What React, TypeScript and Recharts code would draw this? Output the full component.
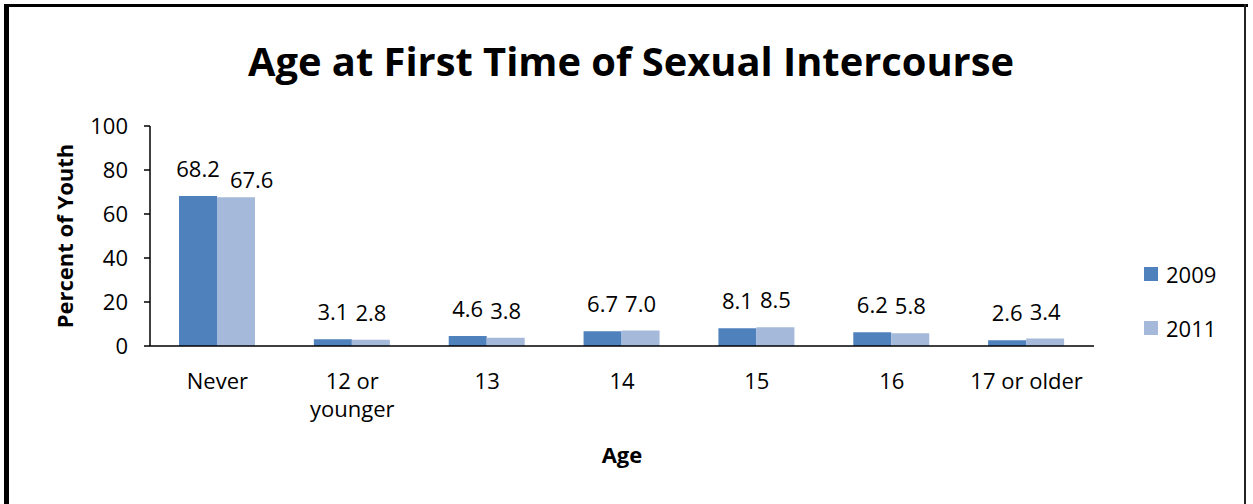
import React from 'react';
import { BarChart, Bar, XAxis, YAxis, LabelList, Legend, Label } from 'recharts';

const categories = ['Never', '12 or\nyounger', '13', '14', '15', '16', '17 or older'];
const values2009 = [68.2, 3.1, 4.6, 6.7, 8.1, 6.2, 2.6];
const values2011 = [67.6, 2.8, 3.8, 7.0, 8.5, 5.8, 3.4];
const yTicks = [0, 20, 40, 60, 80, 100];
const seriesNames = ['2009', '2011'];
const seriesColors = ['#4F81BD', '#A5B9DA'];

const data = categories.map((age, i) => ({
  age,
  y2009: values2009[i],
  y2011: values2011[i],
}));

const FONT = '"Open Sans", "Noto Sans", sans-serif';
const LABEL_SIZE = 22;

// rough width of a numeric label in Open Sans
const textWidth = (s: string) =>
  s.split('').reduce((w, c) => w + (c === '.' ? 0.27 : 0.572), 0) * LABEL_SIZE;

const fmt = (v: number) => Number(v).toFixed(1);

// value label; the second series nudges itself right/down when it would collide with its neighbour
function valueLabel(neighbour: number[] | null) {
  return (props: any) => {
    const { x, y, width, value, index } = props;
    const label = fmt(value);
    let dx = 0;
    let dy = 0;
    if (neighbour) {
      const overlap = (textWidth(label) + textWidth(fmt(neighbour[index]))) / 2 + 2 - width;
      if (overlap > 0) {
        dx = overlap + 8;
        dy = 10;
      }
    }
    return (
      <text
        x={x + width / 2 + dx}
        y={y - 19 + dy}
        textAnchor="middle"
        fontSize={LABEL_SIZE}
        fontFamily={FONT}
        fill="#000"
      >
        {label}
      </text>
    );
  };
}

function AgeTick(props: any) {
  const { x, y, payload } = props;
  const lines = String(payload.value).split('\n');
  return (
    <g transform={`translate(${x},${y})`}>
      {lines.map((line, i) => (
        <text key={i} x={0} y={43 + i * 28} textAnchor="middle" fontSize={22} fontFamily={FONT} fill="#000">
          {line}
        </text>
      ))}
    </g>
  );
}

function LegendBox(props: any) {
  const items = props.payload || [];
  return (
    <div style={{ fontFamily: FONT }}>
      {items.map((e: any, i: number) => (
        <div
          key={e.value}
          style={{ display: 'flex', alignItems: 'center', height: 32, marginBottom: i === 0 ? 22 : 0 }}
        >
          <span style={{ width: 14, height: 14, background: e.color, marginRight: 8, display: 'inline-block' }} />
          <span style={{ fontSize: 22, lineHeight: '32px', color: '#000' }}>{e.value}</span>
        </div>
      ))}
    </div>
  );
}

export default function App() {
  return (
    <div style={{ position: 'absolute', left: 0, top: 0, width: 1253, height: 504, background: '#fff', overflow: 'hidden' }}>
      <BarChart
        width={1253}
        height={504}
        data={data}
        margin={{ top: 126, right: 59, bottom: 28, left: 60 }}
        barCategoryGap="21.5%"
        barGap={0}
      >
        <XAxis
          dataKey="age"
          height={130}
          tick={<AgeTick />}
          tickLine={false}
          tickSize={0}
          tickMargin={0}
          axisLine={{ stroke: '#000', strokeWidth: 1.5 }}
          interval={0}
        >
          <Label
            content={({ viewBox }: any) => (
              <text
                x={viewBox.x + viewBox.width / 2}
                y={viewBox.y + 117}
                textAnchor="middle"
                fontSize={22}
                fontWeight="bold"
                fontFamily={FONT}
                fill="#000"
              >
                Age
              </text>
            )}
          />
        </XAxis>
        <YAxis
          width={90}
          domain={[0, 100]}
          ticks={yTicks}
          tickSize={6}
          tickMargin={16}
          tick={{ fontSize: 22, fontFamily: FONT, fill: '#000' }}
          tickLine={{ stroke: '#000', strokeWidth: 1.5 }}
          axisLine={{ stroke: '#000', strokeWidth: 1.5 }}
        >
          <Label
            content={({ viewBox }: any) => {
              const cx = viewBox.x + 4;
              const cy = viewBox.y + viewBox.height / 2;
              return (
                <text
                  x={cx}
                  y={cy}
                  transform={`rotate(-90 ${cx} ${cy})`}
                  textAnchor="middle"
                  dominantBaseline="central"
                  fontSize={22}
                  fontWeight="bold"
                  fontFamily={FONT}
                  fill="#000"
                >
                  Percent of Youth
                </text>
              );
            }}
          />
        </YAxis>
        <Legend
          layout="vertical"
          align="right"
          verticalAlign="top"
          content={<LegendBox />}
          wrapperStyle={{ left: 1144, top: 258, width: 100 }}
        />
        <Bar dataKey="y2009" name={seriesNames[0]} fill={seriesColors[0]} isAnimationActive={false}>
          <LabelList dataKey="y2009" content={valueLabel(null)} />
        </Bar>
        <Bar dataKey="y2011" name={seriesNames[1]} fill={seriesColors[1]} isAnimationActive={false}>
          <LabelList dataKey="y2011" content={valueLabel(values2009)} />
        </Bar>
      </BarChart>
      <svg width={1253} height={110} style={{ position: 'absolute', left: 0, top: 0 }}>
        <text
          x={248}
          y={76}
          textLength={766}
          lengthAdjust="spacingAndGlyphs"
          fontSize={40}
          fontWeight="bold"
          fontFamily={FONT}
          fill="#000"
        >
          Age at First Time of Sexual Intercourse
        </text>
      </svg>
      <div style={{ position: 'absolute', left: 4, top: 4, width: 1244, height: 3, background: '#000' }} />
      <div style={{ position: 'absolute', left: 4, top: 4, width: 5, height: 500, background: '#000' }} />
      <div style={{ position: 'absolute', left: 1244, top: 4, width: 2, height: 500, background: '#222' }} />
    </div>
  );
}
